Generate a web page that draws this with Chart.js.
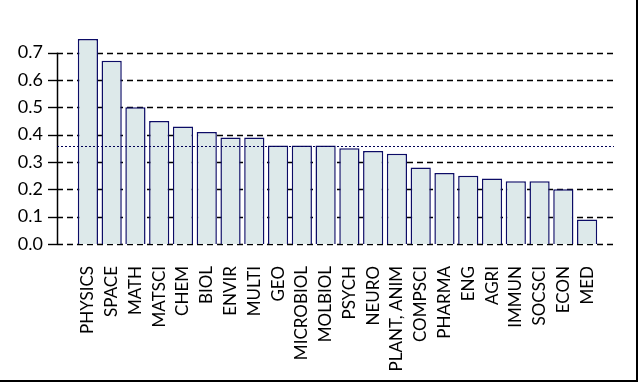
<!DOCTYPE html>
<html>
<head>
<meta charset="utf-8">
<script src="https://cdn.jsdelivr.net/npm/chart.js@4"></script>
<style>
  html, body { margin: 0; padding: 0; background: #fff; }
  #wrap { width: 638px; height: 382px; }
</style>
</head>
<body>
<div id="wrap"><canvas id="fieldChart" width="638" height="382"></canvas></div>
<script>
// --- data ---
const fields = ['PHYSICS', 'SPACE', 'MATH', 'MATSCI', 'CHEM', 'BIOL', 'ENVIR', 'MULTI', 'GEO',
    'MICROBIOL', 'MOLBIOL', 'PSYCH', 'NEURO', 'PLANT, ANIM', 'COMPSCI', 'PHARMA', 'ENG',
    'AGRI', 'IMMUN', 'SOCSCI', 'ECON', 'MED'];
const scores = [0.75, 0.67, 0.50, 0.45, 0.43, 0.41, 0.39, 0.39, 0.36,
    0.36, 0.36, 0.35, 0.34, 0.33, 0.28, 0.26, 0.25,
    0.24, 0.23, 0.23, 0.20, 0.09];
const yTicks = [0.0, 0.1, 0.2, 0.3, 0.4, 0.5, 0.6, 0.7];
const meanLine = 0.358;

// --- colours ---
const barFill = '#dde9ea';
const barEdge = '#0c0c66';
const ink = '#000000';
const fontFam = 'Lato, "Open Sans", sans-serif';

// dashed gridlines, axis line, mean line and frame
const decor = {
    id: 'decor',
    beforeDatasetsDraw(chart) {
        const { ctx, chartArea } = chart;
        const y = chart.scales.y;
        const axisX = chartArea.left - 19;
        ctx.save();
        ctx.strokeStyle = ink;
        ctx.lineWidth = 1.4;
        yTicks.forEach(v => {
            const py = Math.round(y.getPixelForValue(v)) + 0.5;
            ctx.setLineDash([]);
            ctx.beginPath();
            ctx.moveTo(axisX - 9, py);
            ctx.lineTo(axisX, py);
            ctx.stroke();
            ctx.setLineDash([6, 4]);
            ctx.beginPath();
            ctx.moveTo(axisX, py);
            ctx.lineTo(chartArea.right + 15, py);
            ctx.stroke();
        });
        ctx.setLineDash([]);
        ctx.lineWidth = 1.5;
        ctx.beginPath();
        ctx.moveTo(axisX + 0.5, y.getPixelForValue(0.7));
        ctx.lineTo(axisX + 0.5, y.getPixelForValue(0));
        ctx.stroke();
        ctx.restore();
    },
    afterDatasetsDraw(chart) {
        const { ctx, chartArea } = chart;
        const y = chart.scales.y;
        const py = Math.round(y.getPixelForValue(meanLine)) + 0.5;
        ctx.save();
        ctx.strokeStyle = '#000055';
        ctx.lineWidth = 1.2;
        ctx.setLineDash([2, 2]);
        ctx.beginPath();
        ctx.moveTo(chartArea.left - 19, py);
        ctx.lineTo(chartArea.right + 15, py);
        ctx.stroke();
        ctx.setLineDash([]);
        ctx.strokeStyle = ink;
        ctx.lineWidth = 2;
        ctx.beginPath();
        ctx.moveTo(chart.width - 1, 0);
        ctx.lineTo(chart.width - 1, chart.height - 1);
        ctx.lineTo(0, chart.height - 1);
        ctx.stroke();
        ctx.restore();
    }
};

new Chart(document.getElementById('fieldChart').getContext('2d'), {
    type: 'bar',
    data: {
        labels: fields,
        datasets: [{
            label: 'Score',
            data: scores,
            backgroundColor: barFill,
            borderColor: barEdge,
            borderWidth: 1.5,
            categoryPercentage: 1.0,
            barPercentage: 0.85
        }]
    },
    options: {
        responsive: false,
        animation: false,
        layout: { padding: { top: 36, right: 39, bottom: 0, left: 0 } },
        scales: {
            x: {
                grid: { display: false },
                border: { display: false },
                ticks: {
                    color: ink,
                    font: { family: fontFam, size: 17 },
                    minRotation: 90,
                    maxRotation: 90,
                    autoSkip: false,
                    padding: 14
                },
                afterFit: s => { s.height = 138; }
            },
            y: {
                min: 0,
                max: 0.761,
                grid: { display: false },
                border: { display: false },
                ticks: {
                    color: ink,
                    font: { family: fontFam, size: 18 },
                    padding: 25,
                    stepSize: 0.1,
                    callback: v => v.toFixed(1)
                },
                afterBuildTicks: s => {
                    s.ticks = yTicks.map(v => ({ value: v }));
                },
                afterFit: s => {
                    s.width = 76;
                    s.paddingTop = 0;
                    s.paddingBottom = 0;
                }
            }
        },
        plugins: {
            legend: { display: false },
            tooltip: { enabled: false }
        }
    },
    plugins: [decor]
});
</script>
</body>
</html>
